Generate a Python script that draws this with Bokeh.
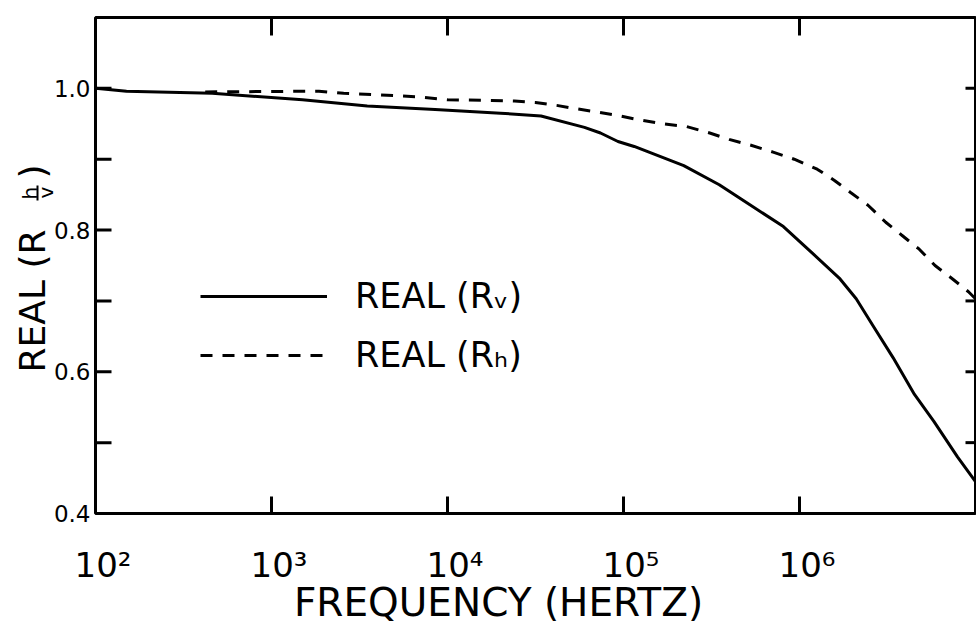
import math

from bokeh.embed import file_html
from bokeh.models import BoxAnnotation, Label, Legend, LegendItem, Range1d
from bokeh.plotting import figure
from bokeh.resources import INLINE

# Real part of the reflection coefficients versus frequency (Hz)
freq_v = [100, 150, 460, 1500, 3500, 8500, 2.0e4, 3.4e4, 6.0e4, 7.4e4, 9.3e4,
          1.15e5, 2.2e5, 3.5e5, 5.2e5, 8.1e5, 1.2e6, 1.7e6, 2.1e6, 2.6e6,
          3.4e6, 4.5e6, 5.8e6, 7.9e6, 1.0e7]
real_v = [1.000, 0.996, 0.993, 0.984, 0.975, 0.970, 0.965, 0.961, 0.945, 0.937,
          0.925, 0.918, 0.891, 0.864, 0.836, 0.805, 0.766, 0.731, 0.703, 0.666,
          0.620, 0.568, 0.530, 0.480, 0.445]

freq_h = [420, 1860, 2570, 3980, 6760, 1.0e4, 1.78e4, 2.4e4, 3.16e4, 4.17e4,
          5.13e4, 6.92e4, 9.12e4, 1.2e5, 1.66e5, 2.29e5, 3.09e5, 3.98e5,
          5.25e5, 7.08e5, 9.33e5, 1.26e6, 1.58e6, 1.95e6, 2.45e6, 3.09e6,
          3.8e6, 4.79e6, 5.89e6, 7.41e6, 9.12e6, 1.0e7]
real_h = [0.995, 0.996, 0.993, 0.991, 0.988, 0.984, 0.983, 0.982, 0.980, 0.976,
          0.972, 0.967, 0.962, 0.956, 0.950, 0.946, 0.937, 0.928, 0.920, 0.910,
          0.900, 0.886, 0.870, 0.853, 0.835, 0.811, 0.793, 0.773, 0.750, 0.731,
          0.713, 0.703]

x_lim = [1e2, 1e7]
y_lim = [0.4, 1.1]
x_ticks = [1e3, 1e4, 1e5, 1e6]
x_label_ticks = [1e2, 1e3, 1e4, 1e5, 1e6]
x_tick_labels = ["10²", "10³", "10⁴", "10⁵", "10⁶"]
y_ticks_left = [0.5, 0.6, 0.7, 0.8, 0.9, 1.0]
y_label_ticks = [0.4, 0.6, 0.8, 1.0]
y_tick_labels = ["0.4", "0.6", "0.8", "1.0"]
y_ticks_right = [0.5, 0.6, 0.7, 0.8, 0.9, 1.0]

FONT = "DejaVu Sans"
INK = "black"

# canvas and axes-box geometry (pixels)
W, H = 976, 632
BOX_L, BOX_R, BOX_T, BOX_B = 95, 975, 17, 513
PX_DECADE = (BOX_R - BOX_L) / math.log10(x_lim[1] / x_lim[0])
PX_UNIT = (BOX_B - BOX_T) / (y_lim[1] - y_lim[0])

# the plotting frame spans the whole canvas so every text can sit outside the box
x_range = Range1d(x_lim[0] / 10 ** (BOX_L / PX_DECADE),
                  x_lim[1] * 10 ** ((W - BOX_R) / PX_DECADE))
y_range = Range1d(y_lim[0] - (H - BOX_B) / PX_UNIT, y_lim[1] + BOX_T / PX_UNIT)

p = figure(width=W, height=H, x_axis_type="log", x_range=x_range, y_range=y_range,
           x_axis_location=None, y_axis_location=None,
           output_backend="svg", toolbar_location=None,
           min_border=0, min_border_left=0, min_border_right=0,
           min_border_top=0, min_border_bottom=0)
p.grid.visible = False
p.outline_line_color = None
p.background_fill_color = "white"
p.border_fill_color = "white"

# axes box
p.quad(left=[x_lim[0]], right=[x_lim[1]], bottom=[y_lim[0]], top=[y_lim[1]],
       fill_color=None, line_color=INK, line_width=3)

# inward tick marks
dy_bottom = 17 / PX_UNIT
dy_top = 18 / PX_UNIT
p.segment(x0=x_ticks, x1=x_ticks, y0=[y_lim[0]] * len(x_ticks),
          y1=[y_lim[0] + dy_bottom] * len(x_ticks), line_color=INK, line_width=3)
p.segment(x0=x_ticks, x1=x_ticks, y0=[y_lim[1]] * len(x_ticks),
          y1=[y_lim[1] - dy_top] * len(x_ticks), line_color=INK, line_width=3)
fx_left = 10 ** (16 / PX_DECADE)
fx_right = 10 ** (10 / PX_DECADE)
p.segment(x0=[x_lim[0]] * len(y_ticks_left), x1=[x_lim[0] * fx_left] * len(y_ticks_left),
          y0=y_ticks_left, y1=y_ticks_left, line_color=INK, line_width=3)
p.segment(x0=[x_lim[1]] * len(y_ticks_right), x1=[x_lim[1] / fx_right] * len(y_ticks_right),
          y0=y_ticks_right, y1=y_ticks_right, line_color=INK, line_width=3)

# curves
r_v = p.line(freq_v, real_v, line_color=INK, line_width=3, line_join="round")
r_h = p.line(freq_h, real_h, line_color=INK, line_width=3, line_dash="12 10")

legend = Legend(
    items=[LegendItem(label="REAL (Rᵥ)", renderers=[r_v]),
           LegendItem(label="REAL (Rₕ)", renderers=[r_h])],
    location=(200, H - 375), orientation="vertical",
    glyph_width=127, glyph_height=40, label_height=40, label_standoff=28,
    spacing=19, padding=0, margin=0,
    border_line_color=None, background_fill_alpha=0,
    label_text_font=FONT, label_text_font_size="35px", label_text_color=INK)
p.add_layout(legend)


def data_text(x, y, t, size, dx=0, dy=0, align="left", baseline="alphabetic"):
    p.add_layout(Label(x=x, y=y, text=t, x_offset=dx, y_offset=dy,
                       text_align=align, text_baseline=baseline,
                       text_font=FONT, text_font_size=size, text_color=INK))


def screen_text(x, y, t, size, angle=0.0, align="left"):
    # x from the left edge, y up from the bottom edge of the canvas
    p.add_layout(Label(x=x, y=y, x_units="screen", y_units="screen", text=t,
                       angle=angle, text_align=align, text_baseline="alphabetic",
                       text_font=FONT, text_font_size=size, text_color=INK))


# tick labels: "10" centred on its tick with the exponent hanging right
for f, t in zip(x_label_ticks, x_tick_labels):
    data_text(f, y_lim[0], t, "34px", dx=-21, dy=-51)
for v, t in zip(y_label_ticks, y_tick_labels):
    data_text(x_lim[0], v, t, "23px", dx=-5, align="right", baseline="middle")

# axis titles
screen_text(498, H - 602, "FREQUENCY (HERTZ)", "39px", align="center")

# vertical title with the h-over-v fraction after R
rot = math.pi / 2
screen_text(32, H - 372, "REAL (R", "36px", angle=rot)
screen_text(29, H - 199, "h", "20px", angle=rot)
screen_text(45, H - 198, "v", "20px", angle=rot)
screen_text(32, H - 178, ")", "36px", angle=rot)
p.add_layout(BoxAnnotation(left=36, right=38, bottom=H - 200, top=H - 185,
                           left_units="screen", right_units="screen",
                           bottom_units="screen", top_units="screen",
                           fill_color=INK, fill_alpha=1, line_color=None))

open("out.html", "w").write(file_html(p, INLINE))
